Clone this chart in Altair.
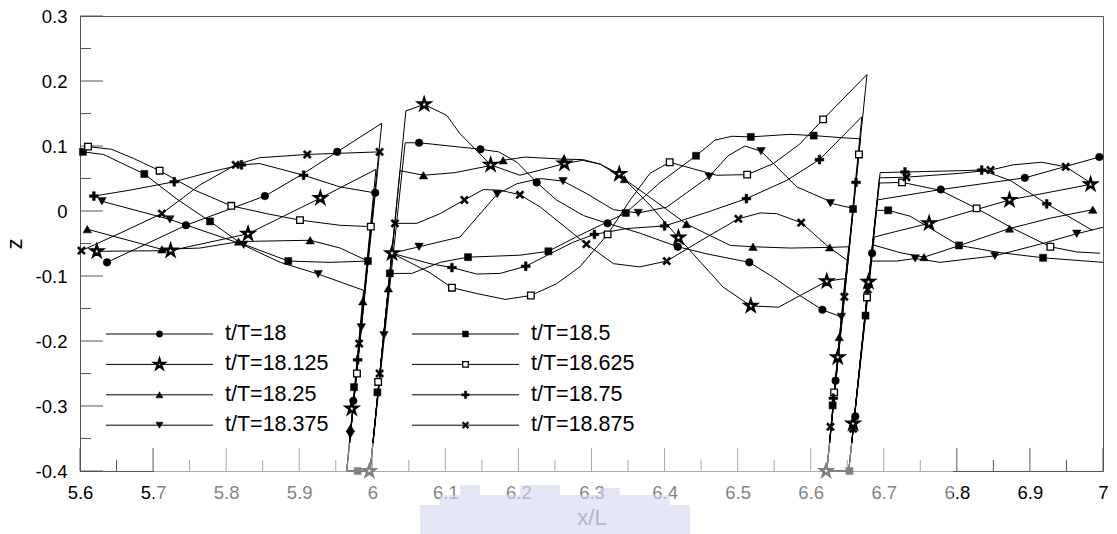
import altair as alt
import pandas as pd

# Legend / series labels (phase within the wave period)
labels = ["t/T=18", "t/T=18.125", "t/T=18.25", "t/T=18.375",
          "t/T=18.5", "t/T=18.625", "t/T=18.75", "t/T=18.875"]

# Free-surface profiles z(x/L); each path also runs down the walls of the two
# floating bodies, along their bottoms (z = -0.4) and back up the other side.
line_18 = [(5.637, -0.079), (5.745, -0.022), (5.853, 0.023), (5.905, 0.057), (5.952, 0.091),
           (6.013, 0.135), (5.965, -0.4), (5.997, -0.4), (6.045, 0.105),
           (6.064, 0.105), (6.148, 0.095), (6.173, 0.091), (6.198, 0.075), (6.225, 0.044),
           (6.252, 0.017), (6.289, -0.007), (6.322, -0.019), (6.366, -0.034), (6.418, -0.055),
           (6.458, -0.066), (6.516, -0.079), (6.549, -0.102), (6.585, -0.130), (6.616, -0.152),
           (6.642, -0.163), (6.622, -0.4), (6.652, -0.4), (6.691, 0.017),
           (6.778, 0.033), (6.893, 0.051), (6.941, 0.066), (6.995, 0.083)]
mark_18 = [(5.637, -0.079), (5.745, -0.022), (5.853, 0.023), (5.952, 0.091), (6.004, 0.028),
           (5.974, -0.292), (6.064, 0.105), (6.148, 0.095), (6.225, 0.044), (6.322, -0.019),
           (6.418, -0.055), (6.516, -0.079), (6.616, -0.152), (6.634, -0.261), (6.661, -0.316),
           (6.684, -0.065), (6.778, 0.033), (6.893, 0.051), (6.995, 0.083)]

line_18125 = [(5.623, -0.062), (5.724, -0.061), (5.830, -0.035), (5.929, 0.020), (6.005, 0.064),
              (5.965, -0.4), (5.997, -0.4), (6.046, 0.154),
              (6.071, 0.164), (6.102, 0.147), (6.120, 0.119), (6.162, 0.071), (6.202, 0.055),
              (6.230, 0.063), (6.263, 0.073), (6.288, 0.078), (6.312, 0.072), (6.338, 0.057),
              (6.380, 0.009), (6.419, -0.041), (6.480, -0.117), (6.518, -0.146), (6.556, -0.148),
              (6.622, -0.108), (6.647, -0.104), (6.622, -0.4), (6.652, -0.4), (6.687, -0.040),
              (6.722, -0.030), (6.762, -0.019), (6.872, 0.017), (6.983, 0.041)]
mark_18125 = [(5.623, -0.062), (5.724, -0.061), (5.830, -0.035), (5.929, 0.020), (5.972, -0.304),
              (5.996, -0.4), (6.027, -0.065), (6.071, 0.164), (6.162, 0.071), (6.263, 0.073),
              (6.338, 0.057), (6.419, -0.041), (6.518, -0.146), (6.622, -0.108), (6.637, -0.225),
              (6.621, -0.4), (6.658, -0.327), (6.679, -0.109), (6.762, -0.019), (6.872, 0.017),
              (6.983, 0.041)]

line_1825 = [(5.610, -0.028), (5.712, -0.059), (5.764, -0.057), (5.819, -0.047), (5.915, -0.045),
             (5.956, -0.057), (5.994, -0.077), (5.965, -0.4), (5.997, -0.4), (6.038, 0.062),
             (6.070, 0.055), (6.113, 0.059), (6.162, 0.070), (6.179, 0.078), (6.209, 0.083),
             (6.257, 0.080), (6.289, 0.079), (6.312, 0.072), (6.345, 0.049), (6.385, 0.017),
             (6.430, -0.020), (6.490, -0.053), (6.521, -0.055), (6.572, -0.057), (6.626, -0.056),
             (6.652, -0.055), (6.622, -0.4), (6.652, -0.4), (6.685, -0.052),
             (6.722, -0.064), (6.755, -0.071), (6.804, -0.053), (6.872, -0.027), (6.928, -0.011),
             (6.986, 0.002)]
mark_1825 = [(5.610, -0.028), (5.712, -0.059), (5.817, -0.047), (5.915, -0.045), (5.987, -0.139),
             (5.970, -0.334), (6.022, -0.119), (6.070, 0.055), (6.179, 0.078), (6.262, 0.080),
             (6.345, 0.049), (6.430, -0.020), (6.521, -0.055), (6.626, -0.056), (6.639, -0.194),
             (6.755, -0.071), (6.872, -0.027), (6.986, 0.002)]

line_18375 = [(5.630, 0.015), (5.723, -0.013), (5.819, -0.050), (5.874, -0.079), (5.926, -0.097),
              (5.988, -0.122), (5.965, -0.4), (5.997, -0.4), (6.027, -0.065),
              (6.064, -0.055), (6.120, -0.040), (6.171, 0.026), (6.198, 0.042), (6.230, 0.050),
              (6.261, 0.046), (6.293, 0.027), (6.330, 0.002), (6.364, -0.003), (6.403, 0.006),
              (6.461, 0.053), (6.487, 0.085), (6.510, 0.100), (6.532, 0.092), (6.581, 0.037),
              (6.622, 0.017), (6.627, 0.012), (6.658, 0.004), (6.622, -0.4), (6.652, -0.4),
              (6.682, -0.077), (6.718, -0.077), (6.743, -0.073), (6.777, -0.079), (6.852, -0.069),
              (6.914, -0.051), (6.964, -0.035), (7.0, -0.025)]
mark_18375 = [(5.630, 0.015), (5.723, -0.013), (5.824, -0.052), (5.926, -0.097), (5.985, -0.179),
              (5.970, -0.344), (6.016, -0.191), (6.064, -0.055), (6.171, 0.026), (6.261, 0.046),
              (6.364, -0.003), (6.461, 0.053), (6.532, 0.092), (6.627, 0.012), (6.642, -0.163),
              (6.743, -0.073), (6.852, -0.069), (6.964, -0.035)]

line_185 = [(5.604, 0.091), (5.632, 0.087), (5.688, 0.057), (5.733, 0.018), (5.778, -0.016),
            (5.819, -0.049), (5.885, -0.077), (5.942, -0.079), (5.994, -0.077),
            (5.965, -0.4), (5.997, -0.4), (6.024, -0.096),
            (6.054, -0.096), (6.093, -0.079), (6.131, -0.071), (6.202, -0.068), (6.241, -0.062),
            (6.277, -0.041), (6.312, -0.022), (6.347, -0.003), (6.394, 0.044), (6.443, 0.085),
            (6.469, 0.109), (6.492, 0.115), (6.518, 0.114), (6.572, 0.118), (6.604, 0.116),
            (6.640, 0.113), (6.668, 0.111), (6.622, -0.4), (6.652, -0.4), (6.690, 0.001),
            (6.706, 0.001), (6.736, -0.008), (6.803, -0.053), (6.859, -0.064), (6.918, -0.072),
            (7.0, -0.079)]
mark_185 = [(5.604, 0.091), (5.688, 0.057), (5.778, -0.016), (5.885, -0.077), (5.994, -0.077),
            (5.975, -0.271), (5.980, -0.4), (6.024, -0.096), (6.007, -0.279), (6.131, -0.071),
            (6.241, -0.062), (6.347, -0.003), (6.443, 0.085), (6.518, 0.114), (6.604, 0.116),
            (6.658, 0.003), (6.630, -0.299), (6.653, -0.4), (6.675, -0.161), (6.706, 0.001),
            (6.803, -0.053), (6.918, -0.072)]

line_18625 = [(5.611, 0.099), (5.643, 0.095), (5.673, 0.081), (5.709, 0.062), (5.757, 0.032),
              (5.807, 0.008), (5.855, -0.004), (5.901, -0.014), (5.956, -0.022), (5.998, -0.024),
              (5.965, -0.4), (5.997, -0.4), (6.027, -0.065),
              (6.079, -0.095), (6.109, -0.118), (6.143, -0.127), (6.182, -0.136), (6.217, -0.130),
              (6.252, -0.112), (6.284, -0.086), (6.322, -0.036), (6.353, 0.017), (6.380, 0.058),
              (6.407, 0.075), (6.439, 0.065), (6.471, 0.055), (6.513, 0.056), (6.549, 0.073),
              (6.585, 0.103), (6.617, 0.141), (6.677, 0.210), (6.622, -0.4), (6.652, -0.4),
              (6.694, 0.043), (6.725, 0.044), (6.777, 0.032), (6.827, 0.004), (6.877, -0.027),
              (6.928, -0.055), (6.964, -0.063), (6.996, -0.065)]
mark_18625 = [(5.611, 0.099), (5.709, 0.062), (5.807, 0.008), (5.901, -0.014), (5.998, -0.024),
              (5.979, -0.250), (6.008, -0.263), (6.109, -0.118), (6.217, -0.130), (6.322, -0.036),
              (6.407, 0.075), (6.513, 0.056), (6.617, 0.141), (6.666, 0.087), (6.632, -0.279),
              (6.677, -0.133), (6.725, 0.044), (6.827, 0.004), (6.928, -0.055)]

line_1875 = [(5.619, 0.023), (5.668, 0.032), (5.729, 0.045), (5.778, 0.060), (5.821, 0.071),
             (5.846, 0.073), (5.906, 0.055), (5.956, 0.037), (6.003, 0.028),
             (5.965, -0.4), (5.997, -0.4), (6.027, -0.065),
             (6.079, -0.081), (6.109, -0.087), (6.143, -0.097), (6.175, -0.096), (6.210, -0.085),
             (6.243, -0.066), (6.275, -0.048), (6.304, -0.036), (6.348, -0.027), (6.400, -0.023),
             (6.458, -0.002), (6.512, 0.019), (6.567, 0.047), (6.612, 0.079), (6.670, 0.145),
             (6.622, -0.4), (6.652, -0.4), (6.695, 0.059),
             (6.729, 0.060), (6.804, 0.062), (6.834, 0.063), (6.873, 0.047), (6.923, 0.011),
             (6.986, -0.030)]
mark_1875 = [(5.619, 0.023), (5.729, 0.045), (5.821, 0.071), (5.906, 0.055), (5.980, -0.229),
             (6.109, -0.087), (6.210, -0.085), (6.304, -0.036), (6.400, -0.023), (6.512, 0.019),
             (6.612, 0.079), (6.662, 0.044), (6.631, -0.288), (6.729, 0.060), (6.834, 0.063),
             (6.923, 0.011)]

line_18875 = [(5.602, -0.061), (5.655, -0.034), (5.712, -0.004), (5.764, 0.040), (5.813, 0.071),
              (5.846, 0.082), (5.911, 0.087), (6.010, 0.091), (5.965, -0.4), (5.997, -0.4),
              (6.031, -0.019), (6.061, -0.019), (6.093, -0.004), (6.126, 0.017), (6.152, 0.033),
              (6.175, 0.032), (6.202, 0.025), (6.230, 0.006), (6.293, -0.051), (6.330, -0.081),
              (6.366, -0.086), (6.403, -0.077), (6.458, -0.040), (6.501, -0.012), (6.531, -0.003),
              (6.553, -0.004), (6.587, -0.018), (6.624, -0.055), (6.650, -0.076),
              (6.622, -0.4), (6.652, -0.4), (6.694, 0.051),
              (6.731, 0.052), (6.804, 0.058), (6.846, 0.063), (6.877, 0.071), (6.916, 0.075),
              (6.949, 0.068), (6.978, 0.047), (6.989, 0.040)]
mark_18875 = [(5.602, -0.061), (5.712, -0.004), (5.813, 0.071), (5.911, 0.087), (6.010, 0.091),
              (5.982, -0.204), (6.031, -0.019), (6.010, -0.250), (6.126, 0.017), (6.202, 0.025),
              (6.293, -0.051), (6.403, -0.077), (6.501, -0.012), (6.587, -0.018), (6.646, -0.132),
              (6.627, -0.332), (6.658, -0.335), (6.678, -0.121), (6.731, 0.052), (6.846, 0.063),
              (6.949, 0.068)]

# Axis tick positions
x_major = [5.6, 5.7, 5.8, 5.9, 6.0, 6.1, 6.2, 6.3, 6.4, 6.5, 6.6, 6.7, 6.8, 6.9, 7.0]
x_minor = [5.65, 5.75, 5.85, 5.95, 6.05, 6.15, 6.25, 6.35, 6.45, 6.55, 6.65, 6.75, 6.85, 6.95]
y_major = [-0.4, -0.3, -0.2, -0.1, 0.0, 0.1, 0.2, 0.3]
y_minor = [-0.35, -0.25, -0.15, -0.05, 0.05, 0.15, 0.25]

series_lines = [line_18, line_18125, line_1825, line_18375, line_185, line_18625, line_1875, line_18875]
series_marks = [mark_18, mark_18125, mark_1825, mark_18375, mark_185, mark_18625, mark_1875, mark_18875]

# Marker symbols (custom paths in the unit square) and per-series styling
STAR = ("M0,-1L0.225,-0.309L0.951,-0.309L0.363,0.118L0.588,0.809L0,0.382"
        "L-0.588,0.809L-0.363,0.118L-0.951,-0.309L-0.225,-0.309Z")
PLUS = "M-0.3,-1H0.3V-0.3H1V0.3H0.3V1H-0.3V0.3H-1V-0.3H-0.3Z"
XMARK = ("M-1,-0.62L-0.62,-1L0,-0.38L0.62,-1L1,-0.62L0.38,0L1,0.62L0.62,1"
         "L0,0.38L-0.62,1L-1,0.62L-0.38,0Z")
marker_style = {
    "t/T=18":     dict(shape="circle",        fill="black", size=58,  sw=0.5),
    "t/T=18.125": dict(shape=STAR,            fill="white", size=140, sw=2.4),
    "t/T=18.25":  dict(shape="triangle-up",   fill="black", size=72,  sw=0.5),
    "t/T=18.375": dict(shape="triangle-down", fill="black", size=72,  sw=0.5),
    "t/T=18.5":   dict(shape="square",        fill="black", size=50,  sw=0.5),
    "t/T=18.625": dict(shape="square",        fill="white", size=44,  sw=1.3),
    "t/T=18.75":  dict(shape=PLUS,            fill="black", size=78,  sw=0.5),
    "t/T=18.875": dict(shape=XMARK,           fill="black", size=70,  sw=0.5),
}

line_rows, mark_rows = [], []
for lab, pts in zip(labels, series_lines):
    for i, (x, z) in enumerate(pts):
        line_rows.append({"series": lab, "i": i, "x": x, "z": z})
for lab, pts in zip(labels, series_marks):
    st = marker_style[lab]
    for x, z in pts:
        mark_rows.append({"series": lab, "x": x, "z": z, "shape": st["shape"],
                          "fill": st["fill"], "size": st["size"], "sw": st["sw"]})
line_df = pd.DataFrame(line_rows)
mark_df = pd.DataFrame(mark_rows)

FONT = "Liberation Sans"
xscale = alt.Scale(domain=[5.6, 7.0], nice=False, zero=False)
yscale = alt.Scale(domain=[-0.4, 0.3], nice=False, zero=False)

x_axis = alt.Axis(values=x_major, labelExpr="toString(round(datum.value*10)/10)",
                  ticks=False, grid=False, labelFlush=False, labelOverlap=False,
                  labelFont=FONT, labelFontSize=18.5, labelColor="black", labelPadding=12,
                  domainColor="#555555", title="x/L", titleFont=FONT, titleFontSize=22,
                  titleFontWeight="normal", titleColor="black", titlePadding=6)
y_axis = alt.Axis(values=y_major, labelExpr="toString(round(datum.value*10)/10)",
                  ticks=False, grid=False, labelFlush=False, labelOverlap=False,
                  labelFont=FONT, labelFontSize=18.5, labelColor="black", labelPadding=13,
                  domainColor="#555555", title="z", titleFont=FONT, titleFontSize=22,
                  titleFontWeight="normal", titleColor="black", titlePadding=9)

profiles = alt.Chart(line_df).mark_line(color="black", strokeWidth=1).encode(
    x=alt.X("x:Q", scale=xscale, axis=x_axis),
    y=alt.Y("z:Q", scale=yscale, axis=y_axis),
    detail="series:N",
    order="i:Q",
)

def symbol_channels():
    return dict(
        shape=alt.Shape("shape:N", scale=None),
        fill=alt.Fill("fill:N", scale=None),
        size=alt.Size("size:Q", scale=None),
        strokeWidth=alt.StrokeWidth("sw:Q", scale=None),
    )

markers = alt.Chart(mark_df).mark_point(filled=True, stroke="black", opacity=1).encode(
    x=alt.X("x:Q", scale=xscale),
    y=alt.Y("z:Q", scale=yscale),
    **symbol_channels(),
)

# Inward-pointing axis ticks
TICK_COLOR = "#555555"
xt_major = alt.Chart(pd.DataFrame({"t": x_major})).mark_rule(color=TICK_COLOR, strokeWidth=1).encode(
    x=alt.X("t:Q", scale=xscale), y=alt.value(455), y2=alt.value(432))
xt_minor = alt.Chart(pd.DataFrame({"t": x_minor})).mark_rule(color=TICK_COLOR, strokeWidth=1).encode(
    x=alt.X("t:Q", scale=xscale), y=alt.value(455), y2=alt.value(444))
yt_major = alt.Chart(pd.DataFrame({"t": y_major})).mark_rule(color=TICK_COLOR, strokeWidth=1).encode(
    y=alt.Y("t:Q", scale=yscale), x=alt.value(0), x2=alt.value(23))
yt_minor = alt.Chart(pd.DataFrame({"t": y_minor})).mark_rule(color=TICK_COLOR, strokeWidth=1).encode(
    y=alt.Y("t:Q", scale=yscale), x=alt.value(0), x2=alt.value(11))

# Two-column legend inside the lower-left of the plot
LEG_COL_X = [26, 332]
LEG_LINE_LEN = 107
LEG_ROW_Y0 = 318
LEG_ROW_DY = 30.4
leg_rows = []
for k, lab in enumerate(labels):
    col, row = divmod(k, 4)
    x0 = LEG_COL_X[col]
    st = marker_style[lab]
    leg_rows.append({"series": lab, "lx1": x0, "lx2": x0 + LEG_LINE_LEN,
                     "mx": x0 + LEG_LINE_LEN / 2, "tx": x0 + LEG_LINE_LEN + 12,
                     "ly": LEG_ROW_Y0 + row * LEG_ROW_DY, "shape": st["shape"],
                     "fill": st["fill"], "size": st["size"] * 0.7, "sw": st["sw"]})
leg_df = pd.DataFrame(leg_rows)
leg_lines = alt.Chart(leg_df).mark_rule(color="black", strokeWidth=1).encode(
    x=alt.X("lx1:Q", scale=None), x2="lx2:Q", y=alt.Y("ly:Q", scale=None))
leg_marks = alt.Chart(leg_df).mark_point(filled=True, stroke="black", opacity=1).encode(
    x=alt.X("mx:Q", scale=None), y=alt.Y("ly:Q", scale=None), **symbol_channels())
leg_text = alt.Chart(leg_df).mark_text(align="left", baseline="middle", font=FONT,
                                       fontSize=21.5, color="black").encode(
    x=alt.X("tx:Q", scale=None), y=alt.Y("ly:Q", scale=None), text="series:N")

# Pale band over the lower middle of the figure, with a faint lavender emblem
haze = alt.Chart(pd.DataFrame({"a": [0]})).mark_rect(color="white", opacity=0.5).encode(
    x=alt.value(74), x2=alt.value(873), y=alt.value(427), y2=alt.value(518))
emblem_df = pd.DataFrame({
    "x1": [340, 360, 380, 440, 520],
    "x2": [610, 590, 400, 480, 540],
    "y1": [489, 479, 469, 469, 472],
    "y2": [518, 489, 479, 479, 479],
})
emblem = alt.Chart(emblem_df).mark_rect(color="#d3d6f0", opacity=0.6).encode(
    x=alt.X("x1:Q", scale=None), x2="x2:Q", y=alt.Y("y1:Q", scale=None), y2="y2:Q")

chart = alt.layer(
    xt_minor, xt_major, yt_minor, yt_major,
    profiles, markers, leg_lines, leg_marks, leg_text, haze, emblem,
).properties(
    width=1023, height=455,
    autosize=alt.AutoSizeParams(type="none"),
    padding={"left": 80, "top": 16, "right": 14, "bottom": 63},
).configure_view(stroke="#555555", strokeWidth=1)

chart.save("out.html", embed_options={"renderer": "svg", "actions": False})
